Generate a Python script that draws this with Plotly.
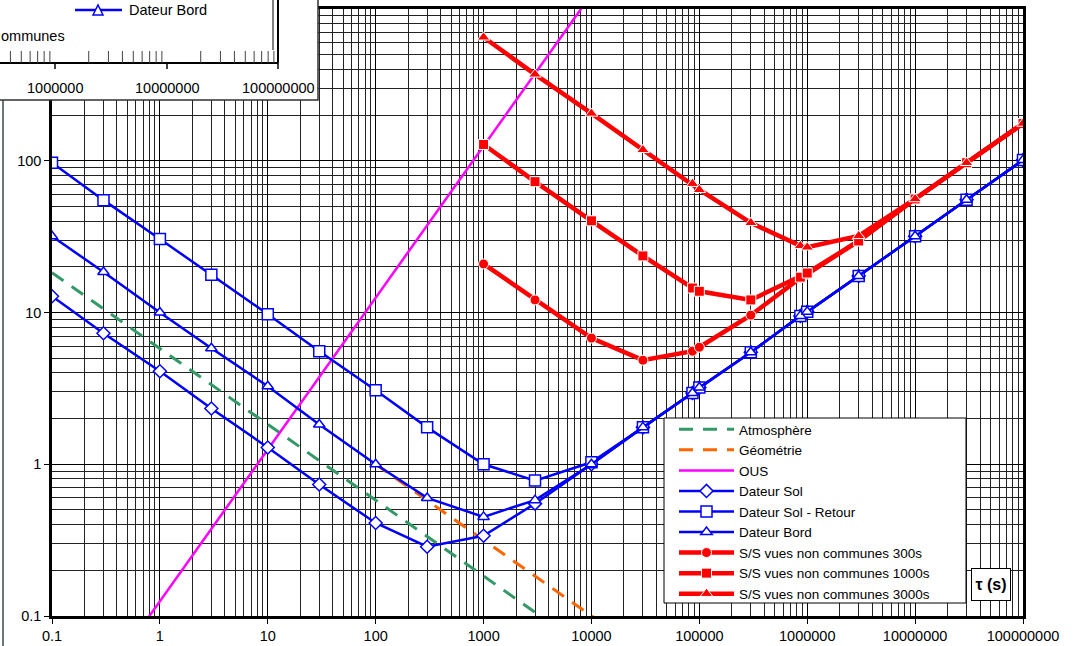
import math
import plotly.graph_objects as go

# values (tau in s)
tau_blue = [0.1, 0.3, 1, 3, 10, 30, 100, 300, 1000, 3000, 10000, 30000,
            86400, 100000, 300000, 864000, 1000000, 3000000, 10000000,
            30000000, 100000000]
dateur_sol = [12.8, 7.3, 4.1, 2.33, 1.29, 0.735, 0.41, 0.286, 0.338, 0.55, 1.0,
              1.75, 2.95, 3.2, 5.47, 9.5, 10.1, 17.4, 31.8, 55.3, 101]
dateur_sol_retour = [97, 55, 30.5, 17.7, 9.75, 5.56, 3.07, 1.75, 1.0, 0.78, 1.03,
                     1.75, 2.95, 3.2, 5.47, 9.5, 10.1, 17.4, 31.8, 55.3, 101]
dateur_bord = [31.8, 18.5, 10.0, 5.82, 3.27, 1.83, 1.0, 0.6, 0.45, 0.58, 1.0,
               1.75, 2.95, 3.2, 5.47, 9.5, 10.1, 17.4, 31.8, 55.3, 101]

tau_atmo = [0.1, 1, 10, 100, 1000, 10000]
atmosphere = [18.3, 5.8, 1.83, 0.58, 0.183, 0.058]
tau_geo = [100, 300, 1000, 3000, 10000, 30000]
geometrie = [1.0, 0.577, 0.316, 0.183, 0.1, 0.058]
tau_ous = [0.1, 1, 10, 100, 1000, 10000]
ous = [0.0125, 0.125, 1.25, 12.5, 125, 1250]

tau_red = [1000, 3000, 10000, 30000, 86400, 100000, 300000, 864000, 1000000,
           3000000, 10000000, 30000000, 100000000]
ss_300 = [20.9, 12.1, 6.78, 4.85, 5.56, 5.9, 9.6, 16.9, 17.9, 29.6, 56, 97, 176]
ss_1000 = [128, 72.8, 40.2, 23.6, 14.5, 13.8, 12.1, 17.1, 18.2, 29.6, 56, 97, 176]
ss_3000 = [651, 371, 205, 118, 70.6, 64.4, 39.0, 27.5, 26.9, 32, 56, 97, 176]

x_ticks = [0.1, 1, 10, 100, 1000, 10000, 100000, 1000000, 10000000, 100000000]
x_ticktext = ["0.1", "1", "10", "100", "1000", "10000", "100000", "1000000",
              "10000000", "100000000"]
y_ticks = [0.1, 1, 10, 100, 1000]
y_ticktext = ["0.1", "1", "10", "100", "1000"]
inset_labels = ["1000000", "10000000", "100000000"]

FONT = "Liberation Sans, Arial, sans-serif"
BLUE, RED = "#0000FF", "#FF0000"


# pixel -> paper helpers (plot area is 52..1023 x 9..616)
def xp(px):
    return (px - 52) / 971


def yp(py):
    return (616 - py) / 607


fig = go.Figure()
fig.add_trace(go.Scatter(x=tau_atmo, y=atmosphere, name="Atmosphère", mode="lines",
                         line=dict(color="#339966", width=3, dash="14px,10px")))
fig.add_trace(go.Scatter(x=tau_geo, y=geometrie, name="Géométrie", mode="lines",
                         line=dict(color="#FF6600", width=3, dash="14px,10px")))
fig.add_trace(go.Scatter(x=tau_ous, y=ous, name="OUS", mode="lines",
                         line=dict(color="#FF00FF", width=2.5)))
for name, vals, sym, size in [("Dateur Sol", dateur_sol, "diamond", 10),
                              ("Dateur Sol - Retour", dateur_sol_retour, "square", 11),
                              ("Dateur Bord", dateur_bord, "triangle-up", 10)]:
    fig.add_trace(go.Scatter(x=tau_blue, y=vals, name=name, mode="lines+markers",
                             line=dict(color=BLUE, width=2.5),
                             marker=dict(symbol=sym, size=size, color="white",
                                         line=dict(color=BLUE, width=1.5))))
for name, vals, sym, size in [("S/S vues non communes 300s", ss_300, "circle", 10),
                              ("S/S vues non communes 1000s", ss_1000, "square", 10),
                              ("S/S vues non communes 3000s", ss_3000, "triangle-up", 11)]:
    fig.add_trace(go.Scatter(x=tau_red, y=vals, name=name, mode="lines+markers",
                             line=dict(color=RED, width=4.5),
                             marker=dict(symbol=sym, size=size, color=RED,
                                         line=dict(color="white", width=1))))

axis_common = dict(type="log", automargin=False, showgrid=True, gridcolor="black", gridwidth=1,
                   minor=dict(dtick="D1", showgrid=True, gridcolor="#222222", gridwidth=1),
                   ticks="outside", ticklen=5, tickcolor="black", showline=True,
                   linecolor="black", linewidth=2.5, mirror=True, zeroline=False,
                   tickfont=dict(family=FONT, size=14.5, color="black"))
fig.update_xaxes(range=[-1, 8], tickvals=x_ticks, ticktext=x_ticktext, **axis_common)
fig.update_yaxes(range=[-1, 3], tickvals=y_ticks, ticktext=y_ticktext, **axis_common)

# legend frame + fragment of another chart lying over the top-left corner
shapes = [
    dict(type="rect", x0=xp(664), x1=xp(966), y0=yp(603), y1=yp(418),
         fillcolor="white", line=dict(color="black", width=1)),
    dict(type="rect", x0=xp(-10), x1=xp(318), y0=yp(100), y1=yp(-10),
         fillcolor="white", line=dict(color="#303030", width=1.5)),
    dict(type="line", x0=xp(3), x1=xp(3), y0=yp(100), y1=yp(650),
         line=dict(color="#3a4a4a", width=1.5)),
    dict(type="line", x0=xp(-10), x1=xp(278), y0=yp(63), y1=yp(63),
         line=dict(color="black", width=2)),
    dict(type="line", x0=xp(278), x1=xp(278), y0=yp(63), y1=yp(-5),
         line=dict(color="black", width=2)),
    dict(type="line", x0=xp(273), x1=xp(273), y0=yp(50), y1=yp(-5),
         line=dict(color="#555555", width=1.5)),
    dict(type="line", x0=xp(75), x1=xp(122), y0=yp(10), y1=yp(10),
         line=dict(color=BLUE, width=2.5)),
    dict(type="path",
         path=f"M {xp(93)},{yp(15)} L {xp(98)},{yp(5)} L {xp(103)},{yp(15)} Z",
         fillcolor="white", line=dict(color=BLUE, width=1.5)),
]
for base in [-57, 55, 167]:
    for k in range(2, 10):
        px = base + 112 * math.log10(k)
        if 0 <= px <= 278:
            shapes.append(dict(type="line", x0=xp(px), x1=xp(px), y0=yp(51), y1=yp(63),
                               line=dict(color="#444444", width=1)))
for px in [55, 167, 278]:
    shapes.append(dict(type="line", x0=xp(px), x1=xp(px), y0=yp(63), y1=yp(69),
                       line=dict(color="black", width=1.5)))
for s in shapes:
    s.update(xref="paper", yref="paper", layer="above")

annotations = [
    dict(text="Dateur Bord", x=xp(127), y=yp(10), xanchor="left", yanchor="middle"),
    dict(text="ommunes", x=xp(-1), y=yp(36), xanchor="left", yanchor="middle"),
]
for px, lab in zip([55, 167, 278], inset_labels):
    annotations.append(dict(text=lab, x=xp(px), y=yp(88), xanchor="center", yanchor="middle"))
for a in annotations:
    a.update(xref="paper", yref="paper", showarrow=False,
             font=dict(family=FONT, size=14.5, color="black"))
annotations.append(dict(text="<b>τ (s)</b>", x=xp(991), y=yp(584), xref="paper", yref="paper",
                        xanchor="center", yanchor="middle", width=32, height=25,
                        showarrow=False, bgcolor="white", bordercolor="black", borderwidth=1,
                        borderpad=3, font=dict(family=FONT, size=16, color="black")))

fig.update_layout(
    width=1083, height=646,
    margin=dict(l=52, r=60, t=9, b=30),
    plot_bgcolor="white", paper_bgcolor="white",
    font=dict(family=FONT, size=14, color="black"),
    showlegend=True,
    legend=dict(x=xp(674), y=yp(414), xanchor="left", yanchor="top", itemwidth=55,
                bgcolor="rgba(0,0,0,0)", borderwidth=0,
                font=dict(family=FONT, size=13.5, color="black"), tracegroupgap=0),
    shapes=shapes,
    annotations=annotations,
)

fig.write_html("out.html", config={"displayModeBar": False},
               post_script="document.body.style.margin = '0';")
